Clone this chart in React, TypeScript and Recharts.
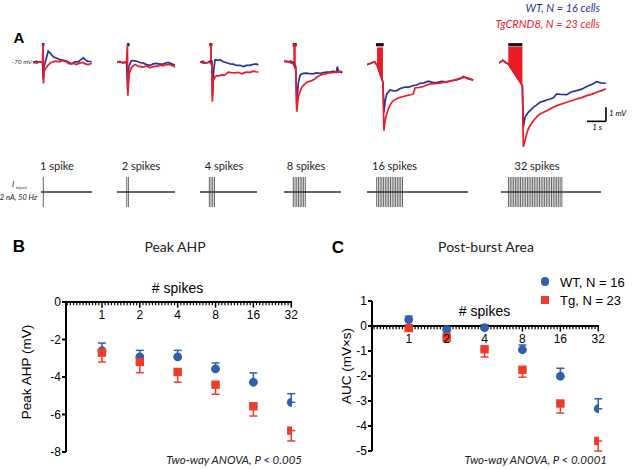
import React from "react";
import {
  ComposedChart,
  Line,
  Area,
  XAxis,
  YAxis,
  ReferenceArea,
  ReferenceLine,
  ScatterChart,
  Scatter,
  ErrorBar,
} from "recharts";

const SANS = "'Liberation Sans', Arial, sans-serif";
const MYR = "Lato, 'Open Sans', sans-serif";
const BLUE_A = "#2e3192";
const RED_A = "#ed1c24";
const BLUE = "#2f5fab";
const RED = "#ef3b2c";

// ---- panel A: averaged traces, [time s, mV relative to -70 mV] ----
type Pt = [number, number];
type Rg = [number, number, number];

const wt1: Pt[] = [[0, 0], [0.15, 0.08], [0.3, 0.05], [0.5, 0], [0.54, -1.2], [0.58, -0.3], [0.8, 0.8], [0.95, 0.6], [1.07, 0.4], [1.25, 0.3], [1.42, 0.2], [1.6, 0.15], [1.77, 0.1], [2.04, -0.1], [2.2, 0.05], [2.38, 0.05], [2.52, 0.2], [2.65, 0.33], [2.75, 0.2], [2.86, 0.1], [3.09, 0.05]];
const tg1: Pt[] = [[0, 0], [0.2, -0.05], [0.35, 0.05], [0.5, 0], [0.53, 1.3], [0.55, -1.5], [0.6, -0.6], [0.7, -0.35], [0.78, -0.2], [0.95, 0], [1.2, 0.1], [1.4, 0.05], [1.55, 0.15], [1.75, 0.05], [1.9, -0.1], [2.1, -0.05], [2.28, -0.15], [2.45, -0.05], [2.63, 0], [2.75, -0.1], [2.9, -0.15], [3.09, -0.05]];

const wt2: Pt[] = [[0, 0.05], [0.25, 0], [0.5, 0.05], [0.56, -2.0], [0.62, -0.3], [0.75, 0.1], [0.86, 0.14], [1.0, 0.1], [1.2, 0], [1.39, -0.05], [1.55, -0.15], [1.74, -0.21], [1.9, -0.1], [2.09, -0.07], [2.25, -0.12], [2.44, -0.1], [2.6, -0.02], [2.7, 0], [2.88, -0.1], [3.05, -0.2]];
const tg2: Pt[] = [[0, 0], [0.15, 0.08], [0.3, -0.05], [0.5, 0], [0.55, 1.3], [0.57, -2.36], [0.64, -0.8], [0.77, -0.33], [0.95, -0.14], [1.15, -0.28], [1.39, -0.33], [1.55, -0.25], [1.74, -0.38], [1.9, -0.3], [2.09, -0.26], [2.3, -0.2], [2.44, -0.24], [2.6, -0.15], [2.79, -0.14], [2.95, -0.25], [3.05, -0.33]];

const wt3: Pt[] = [[0, 0.05], [0.2, -0.05], [0.4, 0], [0.53, 0.1], [0.63, 0.1], [0.65, -2.4], [0.72, -0.6], [0.79, 0.19], [0.95, 0.15], [1.05, 0.2], [1.23, 0.05], [1.4, -0.02], [1.58, -0.1], [1.75, -0.12], [1.93, -0.21], [2.1, -0.2], [2.28, -0.29], [2.45, -0.21], [2.6, -0.2], [2.81, -0.14], [2.95, -0.1], [3.07, -0.17]];
const tg3: Pt[] = [[0, 0], [0.15, 0.1], [0.3, -0.05], [0.45, 0], [0.53, 0], [0.63, -0.2], [0.65, -2.79], [0.7, -1.29], [0.8, -1.0], [0.88, -0.93], [1.0, -0.95], [1.14, -0.88], [1.3, -0.9], [1.49, -0.69], [1.65, -0.72], [1.84, -0.74], [2.0, -0.7], [2.19, -0.81], [2.35, -0.72], [2.46, -0.69], [2.65, -0.7], [2.81, -0.62], [2.95, -0.66], [3.07, -0.69]];
const burst3: Rg[] = [[0.53, -0.05, 1.33], [0.63, -0.2, 1.33]];

const wt4: Pt[] = [[0, 0.1], [0.2, 0.05], [0.35, 0.1], [0.49, 0], [0.62, -0.3], [0.67, -3.0], [0.75, -1.5], [0.84, -0.93], [0.93, -0.81], [1.05, -0.78], [1.2, -0.76], [1.35, -0.8], [1.54, -0.81], [1.7, -0.74], [1.9, -0.78], [2.05, -0.72], [2.25, -0.69], [2.45, -0.66], [2.6, -0.62], [2.75, -0.7], [2.81, -0.29], [2.87, -0.7], [2.95, -0.65], [3.07, -0.76]];
const tg4: Pt[] = [[0, 0.05], [0.15, 0.1], [0.3, 0], [0.49, -0.1], [0.62, -0.5], [0.67, -3.5], [0.75, -2.48], [0.84, -2.1], [0.93, -1.76], [1.05, -1.6], [1.2, -1.4], [1.46, -1.29], [1.6, -1.2], [1.72, -1.05], [1.85, -0.95], [1.98, -0.86], [2.15, -0.82], [2.33, -0.76], [2.5, -0.72], [2.68, -0.69], [2.85, -0.66], [2.95, -0.62], [3.07, -0.7]];
const burst4: Rg[] = [[0.49, -0.1, 1.33], [0.62, -0.5, 1.33]];

const wt5: Pt[] = [[0, -0.15], [0.2, -0.05], [0.4, 0.05], [0.53, -0.2], [0.84, -1.4], [0.89, -3.55], [0.96, -2.7], [1.04, -2.24], [1.21, -1.95], [1.4, -2.02], [1.56, -2.0], [1.75, -1.85], [2.0, -1.76], [2.2, -1.75], [2.44, -1.64], [2.6, -1.6], [2.79, -1.48], [3.0, -1.45], [3.23, -1.33], [3.45, -1.42], [3.67, -1.43], [3.9, -1.35], [4.19, -1.38], [4.45, -1.3], [4.72, -1.24], [4.9, -1.15], [5.07, -1.0], [5.3, -1.15], [5.59, -1.24]];
const tg5: Pt[] = [[0, -0.15], [0.2, -0.05], [0.4, 0.05], [0.53, -0.2], [0.84, -1.4], [0.89, -4.86], [0.95, -4.14], [1.03, -3.7], [1.12, -3.31], [1.25, -2.95], [1.38, -2.71], [1.55, -2.6], [1.74, -2.48], [1.9, -2.42], [2.09, -2.36], [2.3, -2.3], [2.44, -2.24], [2.53, -1.8], [2.75, -1.78], [2.97, -1.71], [3.15, -1.6], [3.32, -1.52], [3.6, -1.5], [3.84, -1.48], [4.1, -1.4], [4.37, -1.33], [4.6, -1.25], [4.8, -1.17], [5.0, -1.1], [5.15, -1.05], [5.4, -1.15], [5.59, -1.29]];
const burst5: Rg[] = [[0.53, -0.2, 1.05], [0.84, -1.4, 1.05]];

const wt6: Pt[] = [[0, -0.05], [0.2, 0.15], [0.35, 0], [0.49, -0.1], [1.23, -1.64], [1.28, -4.62], [1.37, -3.9], [1.54, -3.55], [1.81, -3.19], [2.0, -3.0], [2.16, -2.83], [2.35, -2.75], [2.51, -2.67], [2.7, -2.6], [2.86, -2.52], [3.04, -2.24], [3.3, -2.28], [3.56, -2.29], [3.8, -2.1], [4.09, -2.0], [4.35, -1.9], [4.62, -1.71], [4.9, -1.55], [5.14, -1.36], [5.35, -1.45], [5.62, -1.48]];
const tg6: Pt[] = [[0, -0.05], [0.2, 0.15], [0.35, 0], [0.49, -0.1], [1.23, -1.64], [1.28, -6.0], [1.37, -5.57], [1.45, -5.1], [1.54, -4.74], [1.68, -4.4], [1.81, -4.14], [2.0, -3.85], [2.16, -3.67], [2.4, -3.5], [2.6, -3.38], [2.82, -3.2], [3.04, -3.07], [3.3, -2.95], [3.56, -2.83], [3.8, -2.72], [4.09, -2.6], [4.35, -2.5], [4.62, -2.36], [4.9, -2.25], [5.14, -2.12], [5.4, -2.0], [5.62, -1.88]];
const burst6: Rg[] = [[0.49, -0.1, 1.1], [1.23, -1.64, 1.1]];

// stimulus pulse times (ms), 50 Hz trains
const p1 = [0];
const p2 = [0, 20];
const p4 = [0, 20, 40, 60];
const p8 = [0, 20, 40, 60, 80, 100, 120, 140];
const p16 = [0, 20, 40, 60, 80, 100, 120, 140, 160, 180, 200, 220, 240, 260, 280, 300];
const p32 = [0, 20, 40, 60, 80, 100, 120, 140, 160, 180, 200, 220, 240, 260, 280, 300, 320, 340, 360, 380, 400, 420, 440, 460, 480, 500, 520, 540, 560, 580, 600, 620];

const trainLabels = ["1 spike", "2 spikes", "4 spikes", "8 spikes", "16 spikes", "32 spikes"];

// ---- panels B and C ----
const spikeCounts = ["1", "2", "4", "8", "16", "32"];
const ahpWT = [-2.6, -2.93, -2.93, -3.57, -4.28, -5.35];
const ahpWTsem = [0.41, 0.35, 0.35, 0.32, 0.5, 0.46];
const ahpTg = [-2.7, -3.2, -3.73, -4.41, -5.56, -6.86];
const ahpTgsem = [0.5, 0.57, 0.55, 0.51, 0.52, 0.55];

const aucWT = [0.25, -0.15, -0.07, -0.95, -2.01, -3.31];
const aucWTsem = [0.14, 0.1, 0.12, 0.19, 0.32, 0.4];
const aucTg = [-0.08, -0.44, -0.93, -1.75, -3.1, -4.6];
const aucTgsem = [0.13, 0.17, 0.31, 0.3, 0.38, 0.4];

const PX_PER_S = 19;
const PX_PER_MS = 0.086;
const TRACE_TOP = 40;
const TRACE_H = 111;
const V_DOM: [number, number] = [-6.3, 1.6];

const traceGroups = [
  { left: 33, width: 60, wt: wt1, tg: tg1, burst: null as Rg[] | null, bar: [0.47, 0.6] },
  { left: 117, width: 60, wt: wt2, tg: tg2, burst: null, bar: [0.53, 0.66] },
  { left: 200, width: 60, wt: wt3, tg: tg3, burst: burst3, bar: [0.49, 0.65] },
  { left: 284, width: 60, wt: wt4, tg: tg4, burst: burst4, bar: [0.46, 0.67] },
  { left: 367, width: 110, wt: wt5, tg: tg5, burst: burst5, bar: [0.47, 0.88] },
  { left: 499, width: 110, wt: wt6, tg: tg6, burst: burst6, bar: [0.49, 1.23] },
];

const stimGroups = [
  { pulses: p1, left: 41, first: 43.3, right: 92, label: 57 },
  { pulses: p2, left: 117, first: 126.7, right: 175, label: 141 },
  { pulses: p4, left: 200, first: 209.3, right: 257, label: 224 },
  { pulses: p8, left: 284, first: 293.3, right: 341, label: 306 },
  { pulses: p16, left: 367, first: 376.7, right: 468, label: 394.5 },
  { pulses: p32, left: 501, first: 508.5, right: 601, label: 537 },
];

const toLine = (pts: Pt[]) => pts.map(([t, v]) => ({ t, v }));
const toRange = (pts: Rg[]) => pts.map(([t, lo, hi]) => ({ t, r: [lo, hi] }));
const toDots = (ys: number[], errs: number[], up: boolean) =>
  ys.map((y, i) => ({ x: i, y, err: up ? [0, errs[i]] : [errs[i], 0] }));

function Txt({ x, y, a = "middle", s, children }: any) {
  const tx = a === "middle" ? "-50%" : a === "end" ? "-100%" : "0";
  return (
    <div
      style={{
        position: "absolute",
        left: x,
        top: y,
        transform: `translate(${tx},-50%)`,
        whiteSpace: "nowrap",
        lineHeight: 1,
        ...s,
      }}
    >
      {children}
    </div>
  );
}

function TraceGroup({ g, scaleBar }: any) {
  const dom = g.width / PX_PER_S;
  return (
    <div style={{ position: "absolute", left: g.left, top: TRACE_TOP }}>
      <ComposedChart width={g.width} height={TRACE_H} margin={{ top: 0, right: 0, bottom: 0, left: 0 }}>
        <XAxis type="number" dataKey="t" domain={[0, dom]} hide />
        <YAxis type="number" domain={V_DOM} hide />
        <ReferenceArea x1={g.bar[0]} x2={g.bar[1]} y1={1.15} y2={1.38} fill="#111" fillOpacity={1} stroke="none" />
        <Line data={toLine(g.wt)} dataKey="v" stroke={BLUE_A} strokeWidth={1.7} dot={false} isAnimationActive={false} />
        <Line data={toLine(g.tg)} dataKey="v" stroke={RED_A} strokeWidth={1.7} dot={false} isAnimationActive={false} />
        {g.burst && (
          <Area data={toRange(g.burst)} dataKey="r" stroke={RED_A} strokeWidth={0.6} fill={RED_A} fillOpacity={1} isAnimationActive={false} />
        )}
        {scaleBar && (
          <ReferenceLine segment={[{ x: 4.63, y: -4.19 }, { x: 5.63, y: -4.19 }]} stroke="#000" strokeWidth={1.6} />
        )}
        {scaleBar && (
          <ReferenceLine segment={[{ x: 5.63, y: -4.19 }, { x: 5.63, y: -3.19 }]} stroke="#000" strokeWidth={1.6} />
        )}
      </ComposedChart>
    </div>
  );
}

function StimGroup({ s }: any) {
  const lo = (s.left - s.first) / PX_PER_MS;
  const hi = (s.right - s.first) / PX_PER_MS;
  return (
    <div style={{ position: "absolute", left: s.left, top: 177 }}>
      <ComposedChart width={s.right - s.left} height={30} margin={{ top: 0, right: 0, bottom: 0, left: 0 }}>
        <XAxis type="number" dataKey="t" domain={[lo, hi]} hide />
        <YAxis type="number" domain={[-1, 1]} hide />
        {s.pulses.map((p: number) => (
          <ReferenceLine key={p} x={p} stroke="#555" strokeWidth={0.9} />
        ))}
        <Line data={[{ t: lo, v: 0 }, { t: hi, v: 0 }]} dataKey="v" stroke="#333" strokeWidth={1.4} dot={false} isAnimationActive={false} />
      </ComposedChart>
    </div>
  );
}

const circleShape = (p: any) => <circle cx={p.cx} cy={p.cy} r={4.4} fill={BLUE} />;
const squareShape = (p: any) => <rect x={p.cx - 4.2} y={p.cy - 4.2} width={8.4} height={8.4} fill={RED} />;

const minorTicks = Array.from({ length: 71 }, (_, k) => -1 + (k + 1) / 12).filter(
  (v) => v > -0.93 && v < 5 && Math.abs(v - Math.round(v)) > 0.01
);

function DotPanel({ left, top, width, height, margin, xDomain, yDomain, yTicks, yWidth, wt, tg, major, minor }: any) {
  return (
    <div style={{ position: "absolute", left, top }}>
      <ScatterChart width={width} height={height} margin={margin}>
        <XAxis type="number" dataKey="x" domain={xDomain} hide allowDataOverflow />
        <YAxis
          type="number"
          dataKey="y"
          domain={yDomain}
          ticks={yTicks}
          interval={0}
          width={yWidth}
          allowDataOverflow
          axisLine={{ stroke: "#000", strokeWidth: 2 }}
          tickLine={{ stroke: "#000", strokeWidth: 2 }}
          tickSize={4}
          tickMargin={1}
          tick={{ fill: "#000", fontSize: 12, fontFamily: SANS }}
        />
        <ReferenceLine y={0} stroke="#000" strokeWidth={2} />
        {minorTicks.map((v) => (
          <ReferenceLine key={"m" + v} segment={[{ x: v, y: 0 }, { x: v, y: -minor }]} stroke="#000" strokeWidth={1.2} />
        ))}
        {spikeCounts.map((c, i) => (
          <ReferenceLine
            key={"M" + c}
            segment={[{ x: i, y: 0 }, { x: i, y: -major }]}
            stroke="#000"
            strokeWidth={1.5}
            label={{ value: c, position: "bottom", offset: 3, fill: "#000", fontSize: 12, fontFamily: SANS }}
          />
        ))}
        <Scatter data={wt} shape={circleShape} fill={BLUE} isAnimationActive={false}>
          <ErrorBar dataKey="err" direction="y" width={4} stroke={BLUE} strokeWidth={1.5} />
        </Scatter>
        <Scatter data={tg} shape={squareShape} fill={RED} isAnimationActive={false}>
          <ErrorBar dataKey="err" direction="y" width={4} stroke={RED} strokeWidth={1.5} />
        </Scatter>
      </ScatterChart>
    </div>
  );
}

export default function App() {
  const italic = { fontStyle: "italic" as const };
  return (
    <div
      style={{
        position: "absolute",
        left: 0,
        top: 0,
        width: 640,
        height: 469,
        overflow: "hidden",
        background: "#fff",
        fontFamily: SANS,
        color: "#000",
      }}
    >
      {/* panel A */}
      <Txt x={600} y={7} a="end" s={{ ...italic, fontFamily: MYR, fontSize: 11, color: BLUE_A }}>
        WT, N = 16 cells
      </Txt>
      <Txt x={600} y={23} a="end" s={{ ...italic, fontFamily: MYR, fontSize: 11, color: RED_A }}>
        TgCRND8, N = 23 cells
      </Txt>
      <Txt x={19} y={37} s={{ fontWeight: "bold", fontSize: 15 }}>A</Txt>
      <Txt x={32} y={62} a="end" s={{ ...italic, fontFamily: MYR, fontSize: 6.5, color: "#333" }}>-70 mV</Txt>
      {traceGroups.map((g, i) => (
        <TraceGroup key={i} g={g} scaleBar={i === 5} />
      ))}
      <Txt x={609} y={113} a="start" s={{ ...italic, fontFamily: MYR, fontSize: 8 }}>1 mV</Txt>
      <Txt x={597} y={127} s={{ ...italic, fontFamily: MYR, fontSize: 8 }}>1 s</Txt>

      {stimGroups.map((s, i) => (
        <Txt key={"l" + i} x={s.label} y={165} s={{ fontFamily: MYR, fontSize: 11, color: "#222" }}>
          {trainLabels[i]}
        </Txt>
      ))}
      {stimGroups.map((s, i) => (
        <StimGroup key={"s" + i} s={s} />
      ))}
      <Txt x={13} y={184} s={{ ...italic, fontFamily: MYR, fontSize: 8, color: "#222" }}>I</Txt>
      <Txt x={16} y={188} a="start" s={{ fontFamily: MYR, fontSize: 4.5, color: "#222" }}>inject</Txt>
      <Txt x={37} y={198} a="end" s={{ ...italic, fontFamily: MYR, fontSize: 7.5, color: "#222" }}>2 nA, 50 Hz</Txt>

      {/* panel B */}
      <Txt x={19} y={246} s={{ fontWeight: "bold", fontSize: 17 }}>B</Txt>
      <Txt x={175} y={247} s={{ fontFamily: MYR, fontSize: 14, color: "#222" }}>Peak AHP</Txt>
      <Txt x={177.5} y={288} s={{ fontSize: 14 }}># spikes</Txt>
      <div
        style={{
          position: "absolute",
          left: 27,
          top: 372,
          transform: "translate(-50%,-50%) rotate(-90deg)",
          whiteSpace: "nowrap",
          fontSize: 13.5,
          lineHeight: 1,
        }}
      >
        Peak AHP (mV)
      </div>
      <DotPanel
        left={0}
        top={290}
        width={310}
        height={175}
        margin={{ top: 12, right: 18, bottom: 13, left: 0 }}
        xDomain={[-0.95, 5.02]}
        yDomain={[-8, 0]}
        yTicks={[-8, -6, -4, -2, 0]}
        yWidth={66}
        wt={toDots(ahpWT, ahpWTsem, true)}
        tg={toDots(ahpTg, ahpTgsem, false)}
        major={0.3}
        minor={0.17}
      />
      <Txt x={302} y={460} a="end" s={{ ...italic, fontFamily: MYR, fontSize: 11.5, color: "#222" }}>
        Two-way ANOVA, P &lt; 0.005
      </Txt>

      {/* panel C */}
      <Txt x={338} y={247} s={{ fontWeight: "bold", fontSize: 17 }}>C</Txt>
      <Txt x={486} y={247} s={{ fontFamily: MYR, fontSize: 14, color: "#222" }}>Post-burst Area</Txt>
      <Txt x={484.5} y={311} s={{ fontSize: 14 }}># spikes</Txt>
      <div
        style={{
          position: "absolute",
          left: 347,
          top: 366,
          transform: "translate(-50%,-50%) rotate(-90deg)",
          whiteSpace: "nowrap",
          fontSize: 13.5,
          lineHeight: 1,
        }}
      >
        AUC (mV×s)
      </div>
      <DotPanel
        left={320}
        top={290}
        width={310}
        height={175}
        margin={{ top: 11, right: 31, bottom: 14, left: 0 }}
        xDomain={[-0.97, 5.02]}
        yDomain={[-5, 1]}
        yTicks={[-5, -4, -3, -2, -1, 0, 1]}
        yWidth={52}
        wt={toDots(aucWT, aucWTsem, true)}
        tg={toDots(aucTg, aucTgsem, false)}
        major={0.22}
        minor={0.13}
      />
      <div style={{ position: "absolute", left: 545 - 4.4, top: 281.7 - 4.4, width: 8.8, height: 8.8, borderRadius: "50%", background: BLUE }} />
      <Txt x={560} y={282} a="start" s={{ fontSize: 13 }}>WT, N = 16</Txt>
      <div style={{ position: "absolute", left: 545 - 4.2, top: 300 - 4.2, width: 8.4, height: 8.4, background: RED }} />
      <Txt x={560} y={300} a="start" s={{ fontSize: 13 }}>Tg, N = 23</Txt>
      <Txt x={607} y={460} a="end" s={{ ...italic, fontFamily: MYR, fontSize: 11.5, color: "#222" }}>
        Two-way ANOVA, P &lt; 0.0001
      </Txt>
    </div>
  );
}
